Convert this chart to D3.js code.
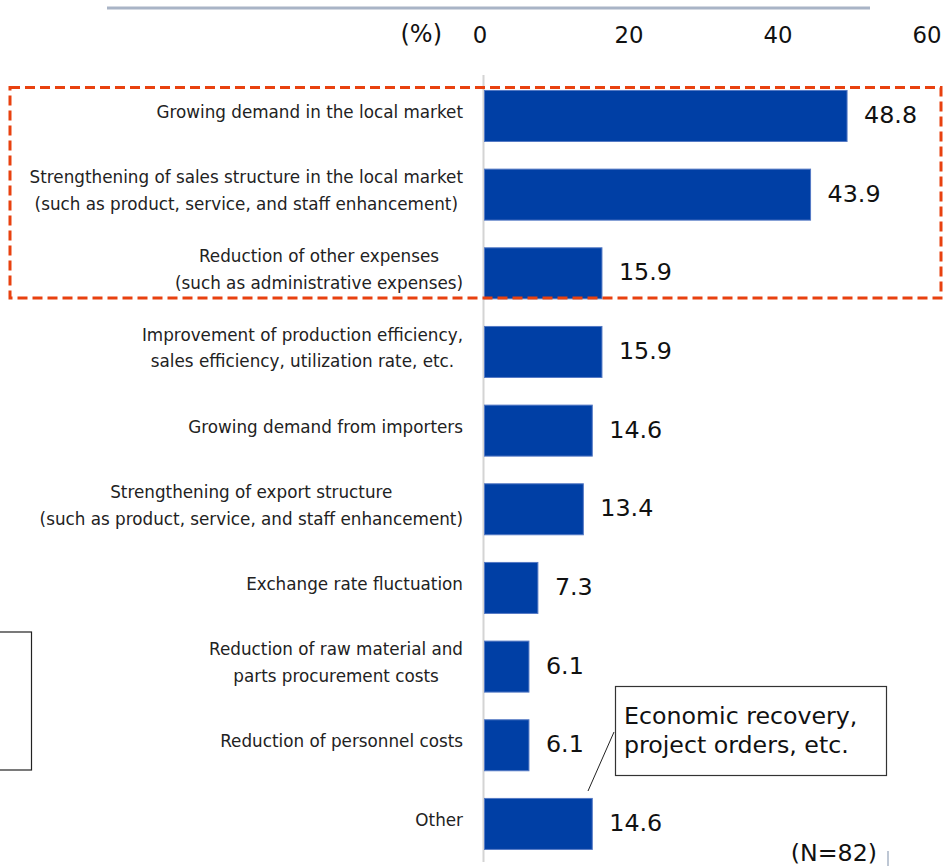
<!DOCTYPE html>
<html><head><meta charset="utf-8">
<script src="https://cdn.jsdelivr.net/npm/d3@7"></script>
<style>html,body{margin:0;padding:0;background:#fff;overflow:hidden}</style>
</head><body>
<svg id="chart" width="945" height="866"></svg>
<script>
const categories = [
  ["Growing demand in the local market"],
  ["Strengthening of sales structure in the local market", "(such as product, service, and staff enhancement)"],
  ["Reduction of other expenses", "(such as administrative expenses)"],
  ["Improvement of production efficiency,", "sales efficiency, utilization rate, etc."],
  ["Growing demand from importers"],
  ["Strengthening of export structure", "(such as product, service, and staff enhancement)"],
  ["Exchange rate fluctuation"],
  ["Reduction of raw material and", "parts procurement costs"],
  ["Reduction of personnel costs"],
  ["Other"]
];
const values = [48.8, 43.9, 15.9, 15.9, 14.6, 13.4, 7.3, 6.1, 6.1, 14.6];
const tickValues = [0, 20, 40, 60];
const unitLabel = "(%)";
const sampleNote = "(N=82)";
const calloutLines = ["Economic recovery,", "project orders, etc."];

const FONT = "'DejaVu Sans', Verdana, sans-serif";
const svg = d3.select("#chart");
const ids = categories.map((c, i) => i);

const x = d3.scaleLinear().domain([0, 60]).range([484, 931]);
const y = d3.scaleBand().domain(ids).range([76.6, 863.3]).paddingInner(0.339).paddingOuter(0.17);

// top decorative line
svg.append("line").attr("x1", 107).attr("x2", 870).attr("y1", 8).attr("y2", 8)
  .attr("stroke", "#a9b4c6").attr("stroke-width", 3);

// top axis
const axis = svg.append("g").attr("transform", "translate(0,43)")
  .call(d3.axisTop(x).tickValues(tickValues).tickSize(0).tickPadding(0));
axis.select(".domain").remove();
axis.selectAll("text").attr("font-family", FONT).attr("font-size", 22.8).attr("fill", "#111").attr("dx", -4.5);
svg.append("text").attr("x", 442).attr("y", 42).attr("text-anchor", "end")
  .attr("font-family", FONT).attr("font-size", 24).attr("fill", "#111").text(unitLabel);

// vertical baseline
svg.append("line").attr("x1", x(0) - 0.5).attr("x2", x(0) - 0.5).attr("y1", 75).attr("y2", 862)
  .attr("stroke", "#d4d4d4").attr("stroke-width", 2);

// bars
svg.append("g").selectAll("rect").data(values).join("rect")
  .attr("x", x(0) + 0.5).attr("y", (d, i) => y(i) + 0.5)
  .attr("width", d => x(d) - x(0) - 1).attr("height", y.bandwidth() - 1)
  .attr("fill", "#003fa5").attr("stroke", "#5479c4").attr("stroke-width", 1);

// value labels
svg.append("g").selectAll("text").data(values).join("text")
  .attr("x", d => x(d) + 16.5).attr("y", (d, i) => y(i) + y.bandwidth() / 2 - 1)
  .attr("dominant-baseline", "central")
  .attr("font-family", FONT).attr("font-size", 23.8).attr("fill", "#111")
  .text(d => d.toFixed(1));

// category labels (block right-aligned, lines centered)
const labelRight = 463;
const lineH = 26.5;
categories.forEach((lines, i) => {
  const g = svg.append("g");
  const texts = lines.map((t, j) => g.append("text")
    .attr("font-family", FONT).attr("font-size", 16.8).attr("fill", "#222")
    .attr("text-anchor", "middle").attr("dominant-baseline", "central").text(t));
  const maxW = d3.max(texts, t => t.node().getComputedTextLength());
  const cx = labelRight - maxW / 2;
  const cy = y(i) + y.bandwidth() / 2 - 4;
  texts.forEach((t, j) => {
    t.attr("x", cx).attr("y", cy + (j - (lines.length - 1) / 2) * lineH);
  });
});

// dashed highlight box
svg.append("rect").attr("x", 10).attr("y", 87.5).attr("width", 931).attr("height", 210.5)
  .attr("fill", "none").attr("stroke", "#e8410f").attr("stroke-width", 3)
  .attr("stroke-dasharray", "10,5");

// left box (partially off-screen)
svg.append("rect").attr("x", -20).attr("y", 632).attr("width", 51.5).attr("height", 138)
  .attr("fill", "none").attr("stroke", "#222").attr("stroke-width", 1.2);

// callout
svg.append("line").attr("x1", 588).attr("y1", 791).attr("x2", 614).attr("y2", 732)
  .attr("stroke", "#222").attr("stroke-width", 1);
svg.append("rect").attr("x", 615.5).attr("y", 686.5).attr("width", 271).attr("height", 89)
  .attr("fill", "#fff").attr("stroke", "#333").attr("stroke-width", 1.2);
calloutLines.forEach((t, j) => {
  svg.append("text").attr("x", 624).attr("y", 716 + j * 29).attr("dominant-baseline", "central")
    .attr("font-family", FONT).attr("font-size", 23.7).attr("fill", "#111").text(t);
});

// N note
svg.append("text").attr("x", 877).attr("y", 853).attr("text-anchor", "end").attr("dominant-baseline", "central")
  .attr("font-family", FONT).attr("font-size", 23.7).attr("fill", "#111").text(sampleNote);
svg.append("line").attr("x1", 888).attr("x2", 888).attr("y1", 851).attr("y2", 866)
  .attr("stroke", "#a9b4c6").attr("stroke-width", 1.5);
</script>
</body></html>
